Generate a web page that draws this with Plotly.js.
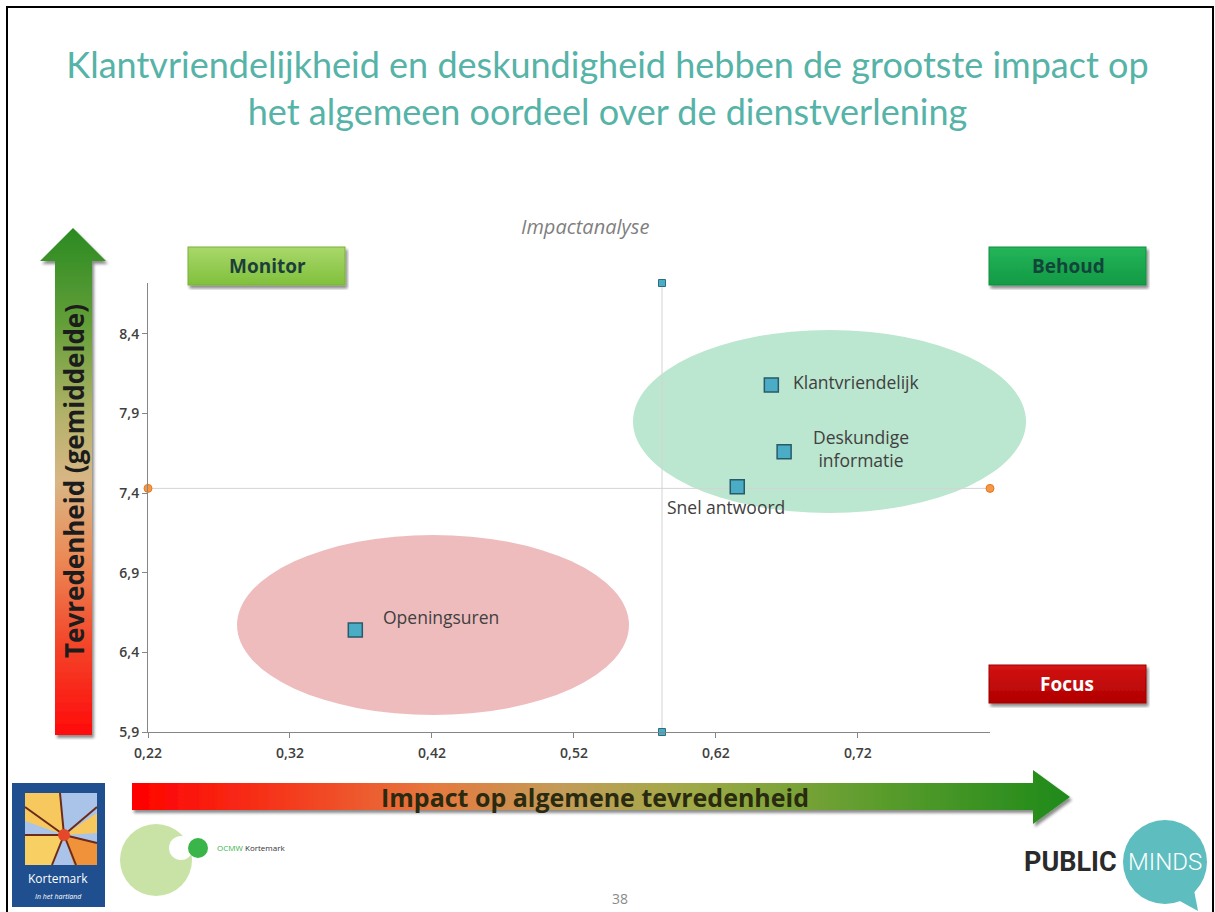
<!DOCTYPE html>
<html>
<head>
<meta charset="utf-8">
<script src="https://cdn.plot.ly/plotly-3.0.1.min.js"></script>
<style>
html, body { margin: 0; padding: 0; background: #fff; }
#chart { width: 1215px; height: 912px; }
</style>
</head>
<body>
<div id="chart"></div>
<script>
const aspecten = ['Klantvriendelijk', 'Deskundige<br>informatie', 'Snel antwoord', 'Openingsuren'];
const impact = [0.659, 0.668, 0.635, 0.366];
const tevredenheid = [8.08, 7.66, 7.44, 6.54];

// gemiddelden (kruislijnen)
const gemImpact = 0.582;
const gemTevredenheid = 7.43;

const xBereik = [0.22, 0.813];
const yBereik = [5.9, 8.72];
const xTickVals = [0.22, 0.32, 0.42, 0.52, 0.62, 0.72];
const xTickText = ['0,22', '0,32', '0,42', '0,52', '0,62', '0,72'];
const yTickVals = [5.9, 6.4, 6.9, 7.4, 7.9, 8.4];
const yTickText = ['5,9', '6,4', '6,9', '7,4', '7,9', '8,4'];

// labels: anker en verschuiving in px t.o.v. het punt
const labelAnker = ['left', 'center', 'center', 'center'];
const labelDx = [20, 77, -11, 86];
const labelDy = [3, 3, -20, 13];

const W = 1215, H = 912;
const M = { l: 148, r: 225, t: 283, b: 180 };
const PW = W - M.l - M.r;
const PH = H - M.t - M.b;

// pixel op de dia -> paper coordinaten
function fx(px) { return (px - M.l) / PW; }
function fy(py) { return (H - M.b - py) / PH; }

function svgBeeld(inner, px, py, w, h) {
    let svg = '<svg xmlns="http://www.w3.org/2000/svg" width="' + w + '" height="' + h +
        '" viewBox="0 0 ' + w + ' ' + h + '">' + inner + '</svg>';
    return {
        source: 'data:image/svg+xml;charset=utf-8,' + encodeURIComponent(svg),
        xref: 'paper', yref: 'paper', x: fx(px), y: fy(py),
        sizex: w / PW, sizey: h / PH, xanchor: 'left', yanchor: 'top',
        sizing: 'stretch', layer: 'above'
    };
}

function tekst(t, px, py, font, extra) {
    let a = {
        text: t, xref: 'paper', yref: 'paper', x: fx(px), y: fy(py),
        showarrow: false, xanchor: 'center', yanchor: 'middle', font: font
    };
    return Object.assign(a, extra || {});
}

const schaduw = '<defs><filter id="s" x="-10%" y="-10%" width="130%" height="140%">' +
    '<feDropShadow dx="2" dy="3" stdDeviation="1.5" flood-color="#000" flood-opacity="0.45"/></filter></defs>';

function kader(c1, c2, rand) {
    return schaduw.replace('</defs>',
        '<linearGradient id="g" x1="0" y1="0" x2="0" y2="1"><stop offset="0" stop-color="' + c1 +
        '"/><stop offset="1" stop-color="' + c2 + '"/></linearGradient></defs>') +
        '<rect x="1" y="1" width="157" height="38" fill="url(#g)" stroke="' + rand + '" stroke-width="1" filter="url(#s)"/>';
}

// pijl verticaal
let pijlV = schaduw.replace('</defs>',
    '<linearGradient id="v" x1="0" y1="1" x2="0" y2="0">' +
    '<stop offset="0" stop-color="#ff0a0a"/><stop offset="0.18" stop-color="#f3462a"/>' +
    '<stop offset="0.35" stop-color="#eb8a56"/><stop offset="0.5" stop-color="#d9b685"/>' +
    '<stop offset="0.63" stop-color="#b3b26a"/><stop offset="0.8" stop-color="#67a03a"/>' +
    '<stop offset="1" stop-color="#2a8a22"/></linearGradient></defs>') +
    '<polygon points="36,2 69,35 55,35 55,509 18,509 18,35 3,35" fill="url(#v)" filter="url(#s)"/>';

// pijl horizontaal
let pijlH = schaduw.replace('</defs>',
    '<linearGradient id="h" x1="0" y1="0" x2="1" y2="0">' +
    '<stop offset="0" stop-color="#ff0000"/><stop offset="0.17" stop-color="#f43c1e"/>' +
    '<stop offset="0.32" stop-color="#e6783e"/><stop offset="0.46" stop-color="#c29c58"/>' +
    '<stop offset="0.6" stop-color="#9eaa46"/><stop offset="0.8" stop-color="#5a9c2c"/>' +
    '<stop offset="1" stop-color="#1e8a1a"/></linearGradient></defs>') +
    '<polygon points="4,17 905,17 905,4 942,31 905,58 905,44 4,44" fill="url(#h)" filter="url(#s)"/>';

let logoKortemark =
    '<rect width="93" height="124" fill="#1f4f8e"/>' +
    '<rect x="13" y="10" width="72" height="72" fill="#a9c4e8"/>' +
    '<polygon points="13,10 48,10 52,52 13,38" fill="#f7c85e"/>' +
    '<polygon points="85,30 85,50 52,52" fill="#f7c85e"/>' +
    '<polygon points="13,52 52,52 40,82 13,82" fill="#f8cf62"/>' +
    '<polygon points="52,52 85,60 85,82 62,82" fill="#f0923a"/>' +
    '<g stroke="#6b2a1a" stroke-width="2" fill="none">' +
    '<line x1="52" y1="52" x2="13" y2="24"/><line x1="52" y1="52" x2="48" y2="10"/>' +
    '<line x1="52" y1="52" x2="85" y2="24"/><line x1="52" y1="52" x2="85" y2="60"/>' +
    '<line x1="52" y1="52" x2="64" y2="82"/><line x1="52" y1="52" x2="40" y2="82"/>' +
    '<line x1="52" y1="52" x2="13" y2="52"/></g>' +
    '<circle cx="52" cy="52" r="6" fill="#e4472a"/>';

let logoOcmw =
    '<circle cx="38" cy="42" r="36" fill="#c8e3a5"/>' +
    '<circle cx="63" cy="30" r="12" fill="#fff"/>' +
    '<circle cx="80" cy="30" r="10" fill="#3ab54a"/>';

let logoMinds =
    '<circle cx="47" cy="46" r="42" fill="#5dbdbf"/>' +
    '<path d="M60,84 L80,95 L76,74 Z" fill="#5dbdbf"/>';

let referentieV = {
    x: [gemImpact, gemImpact], y: yBereik, mode: 'lines+markers',
    line: { color: '#d4d4d4', width: 1 },
    marker: { symbol: 'square', size: 7, color: '#4bacc6', line: { color: '#2c6e80', width: 1 } },
    cliponaxis: false, hoverinfo: 'skip'
};
let referentieH = {
    x: xBereik, y: [gemTevredenheid, gemTevredenheid], mode: 'lines+markers',
    line: { color: '#d4d4d4', width: 1 },
    marker: { symbol: 'circle', size: 8, color: '#f79646', line: { color: '#e07a20', width: 1 } },
    cliponaxis: false, hoverinfo: 'skip'
};
let punten = {
    x: impact, y: tevredenheid, mode: 'markers', text: aspecten,
    marker: { symbol: 'square', size: 14, color: '#4bacc6', line: { color: '#285a69', width: 1.5 } },
    cliponaxis: false, hoverinfo: 'text'
};

let labelFont = { family: 'Open Sans, sans-serif', size: 17.5, color: '#404040' };
let annotaties = [];
for (let i = 0; i < aspecten.length; i++) {
    annotaties.push({
        text: aspecten[i], x: impact[i], y: tevredenheid[i], xref: 'x', yref: 'y',
        showarrow: false, xanchor: labelAnker[i], yanchor: 'middle',
        xshift: labelDx[i], yshift: labelDy[i], font: labelFont
    });
}

let kaderFont = { family: 'Open Sans, sans-serif', size: 19, weight: 700 };
annotaties.push(
    tekst('Impactanalyse', 585, 226, { family: 'Open Sans, sans-serif', size: 20, color: '#7f7f7f', style: 'italic' }),
    tekst('Monitor', 267, 266, Object.assign({ color: '#1d3f3a' }, kaderFont)),
    tekst('Behoud', 1068, 266, Object.assign({ color: '#12453a' }, kaderFont)),
    tekst('Focus', 1067, 684, Object.assign({ color: '#ffffff' }, kaderFont)),
    tekst('Tevredenheid (gemiddelde)', 74, 481,
        { family: 'Open Sans, sans-serif', size: 26, weight: 700, color: '#1c1c1c' }, { textangle: -90 }),
    tekst('Impact op algemene tevredenheid', 595, 797,
        { family: 'Open Sans, sans-serif', size: 25, weight: 700, color: '#2a2a10' }),
    tekst('Kortemark', 58, 878, { family: 'Open Sans, sans-serif', size: 12, color: '#ffffff' }),
    tekst('In het hartland', 58, 896, { family: 'Open Sans, sans-serif', size: 7, color: '#ffffff', style: 'italic' }),
    tekst('OCMW', 215, 847, { family: 'Open Sans, sans-serif', size: 8, color: '#3ab54a' }, { xanchor: 'left' }),
    tekst('Kortemark', 243, 847, { family: 'Open Sans, sans-serif', size: 8, color: '#333333' }, { xanchor: 'left' }),
    tekst('38', 620, 898, { family: 'Open Sans, sans-serif', size: 14, color: '#8a8a8a' }),
    tekst('PUBLIC', 1119, 862, { family: 'Roboto, sans-serif', size: 27, weight: 700, color: '#2a2a2a' }, { xanchor: 'right' }),
    tekst('MINDS', 1165, 862, { family: 'Roboto, sans-serif', size: 24, weight: 300, color: '#ffffff' })
);

let lijn = { color: '#000', width: 2 };
let vormen = [
    { type: 'circle', xref: 'paper', yref: 'paper', x0: fx(633), x1: fx(1026), y0: fy(513), y1: fy(330),
      fillcolor: 'rgb(187,230,207)', line: { width: 0 }, layer: 'below' },
    { type: 'circle', xref: 'paper', yref: 'paper', x0: fx(237), x1: fx(629), y0: fy(715), y1: fy(535),
      fillcolor: 'rgb(239,188,190)', line: { width: 0 }, layer: 'below' },
    { type: 'line', xref: 'paper', yref: 'paper', x0: fx(7), x1: fx(7), y0: fy(6), y1: fy(912), line: lijn },
    { type: 'line', xref: 'paper', yref: 'paper', x0: fx(7), x1: fx(1213), y0: fy(7), y1: fy(7), line: lijn },
    { type: 'line', xref: 'paper', yref: 'paper', x0: fx(1213), x1: fx(1213), y0: fy(6), y1: fy(912), line: lijn }
];

let beelden = [
    svgBeeld(pijlV, 37, 226, 74, 514),
    svgBeeld(pijlH, 128, 766, 948, 64),
    svgBeeld(kader('#a9d86a', '#80c03c', '#79b23a'), 187, 246, 162, 44),
    svgBeeld(kader('#24b559', '#129a45', '#119040'), 988, 246, 162, 44),
    svgBeeld(kader('#d41414', '#b00000', '#a00000'), 988, 664, 162, 44),
    svgBeeld(logoKortemark, 12, 783, 93, 124),
    svgBeeld(logoOcmw, 118, 818, 95, 84),
    svgBeeld(logoMinds, 1118, 816, 97, 96)
];

let asFont = { family: 'Open Sans, sans-serif', size: 14, weight: 600, color: '#404040' };
let layout = {
    width: W, height: H,
    margin: M,
    paper_bgcolor: '#ffffff',
    plot_bgcolor: 'rgba(0,0,0,0)',
    showlegend: false,
    title: {
        text: 'Klantvriendelijkheid en deskundigheid hebben de grootste impact op<br>het algemeen oordeel over de dienstverlening',
        font: { family: 'Lato, sans-serif', size: 36, color: '#55b3a8' },
        xref: 'container', x: 0.5, xanchor: 'center',
        yref: 'container', y: 1 - 78 / H, yanchor: 'middle'
    },
    xaxis: {
        range: xBereik, tickvals: xTickVals, ticktext: xTickText,
        showgrid: false, zeroline: false, showline: true, linecolor: '#868686', linewidth: 1,
        ticks: 'outside', ticklen: 5, tickcolor: '#868686', tickfont: asFont, ticklabelstandoff: 3
    },
    yaxis: {
        range: yBereik, tickvals: yTickVals, ticktext: yTickText,
        showgrid: false, zeroline: false, showline: true, linecolor: '#868686', linewidth: 1,
        ticks: 'outside', ticklen: 5, tickcolor: '#868686', tickfont: asFont
    },
    shapes: vormen,
    images: beelden,
    annotations: annotaties
};

Plotly.newPlot('chart', [referentieV, referentieH, punten], layout, { displayModeBar: false });
</script>
</body>
</html>
